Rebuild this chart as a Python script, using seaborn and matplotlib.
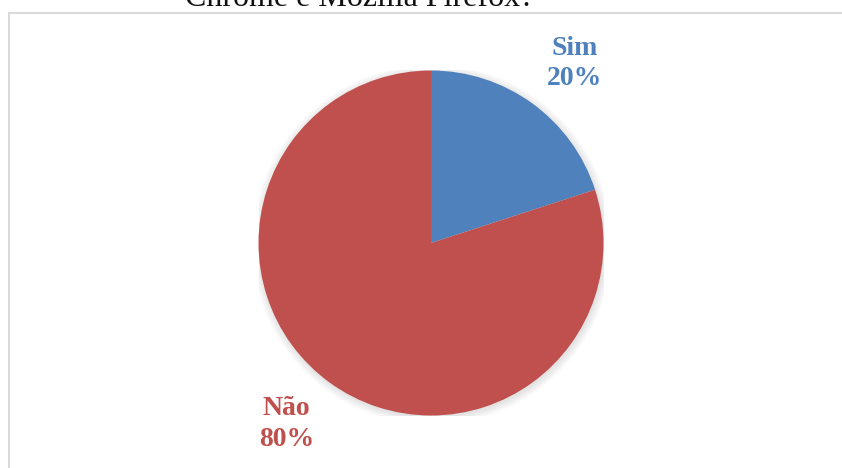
import matplotlib
matplotlib.use("Agg")
import matplotlib.pyplot as plt
from matplotlib.patches import Rectangle, Circle
import seaborn as sns

# Survey answers
categories = ["Sim", "Não"]
percentages = [20, 80]
colors = ["#4F81BD", "#C0504D"]
title_text = "Chrome e Mozilla Firefox?"

# Label anchor points (data units, pie radius = 1)
label_xy = [(0.832, 1.040), (-0.838, -1.050)]

sns.set_theme(style="white")
plt.rcParams["font.family"] = ["Liberation Serif", "DejaVu Serif"]

W, H = 842, 468
fig = plt.figure(figsize=(W / 100, H / 100), dpi=100)
fig.patch.set_facecolor("white")

# Chart frame (light gray border running off the right/bottom edges)
frame = Rectangle((8.5 / W, -0.1), 1.2, (H - 12.5) / H + 0.1,
                  transform=fig.transFigure, fill=False,
                  edgecolor="#d9d9d9", linewidth=1.4, zorder=0)
fig.add_artist(frame)

# Title, mostly cut off by the top of the canvas
fig.text(185 / W, (H - 6) / H, title_text, ha="left", va="baseline",
         fontsize=23, color="#111111")

# Square axes holding the pie (radius 1 in data units)
cx, cy, r = 431, 243, 172.5
ax = fig.add_axes([(cx - r) / W, (H - cy - r) / H, 2 * r / W, 2 * r / H])
ax.set_axis_off()

# Soft shadow behind the pie
for i in range(14):
    ax.add_patch(Circle((0.006, -0.010), 1.0 + i * 0.0035,
                        color="black", alpha=0.008, lw=0, zorder=0))

labels = [f"{c}\n{p}%" for c, p in zip(categories, percentages)]
wedges, texts = ax.pie(percentages, labels=labels, colors=colors,
                       startangle=90, counterclock=False,
                       labeldistance=1.34,
                       wedgeprops=dict(linewidth=0, zorder=2),
                       textprops=dict(fontsize=20, fontweight="bold",
                                      linespacing=1.3))
for t, c, xy in zip(texts, colors, label_xy):
    t.set_color(c)
    t.set_position(xy)
    t.set_ha("center")
    t.set_va("center")
    t.set_clip_on(False)

ax.set_xlim(-1, 1)
ax.set_ylim(-1, 1)
ax.set_aspect("equal")

fig.savefig("out.png", dpi=100, facecolor="white")
